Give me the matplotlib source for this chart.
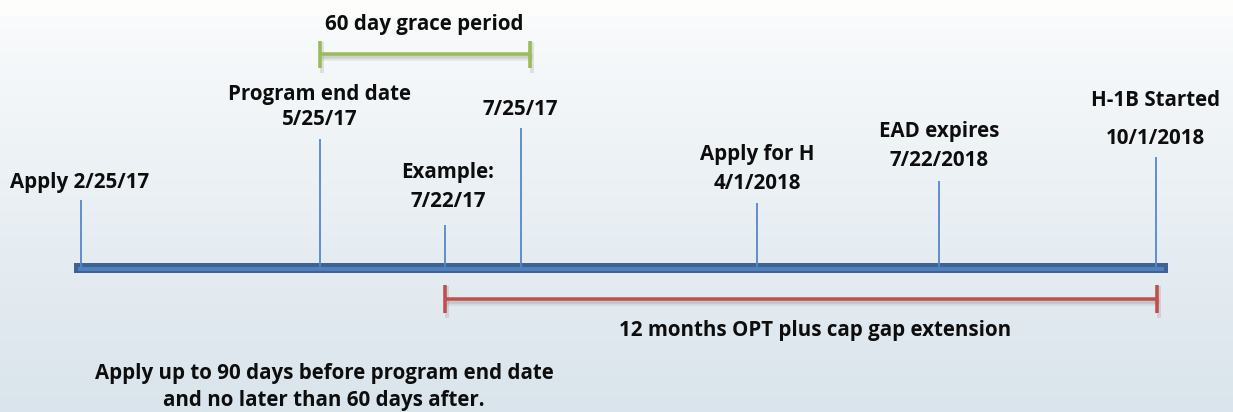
import numpy as np
import matplotlib
matplotlib.use("Agg")
import matplotlib.pyplot as plt
from matplotlib.patches import Rectangle

# ---- data (schematic timeline, positions in layout units) ----
event_lines = [["Apply 2/25/17"],
               ["Program end date", "5/25/17"],
               ["Example:", "7/22/17"],
               ["7/25/17"],
               ["Apply for H", "4/1/2018"],
               ["EAD expires", "7/22/2018"],
               ["H-1B Started", "10/1/2018"]]
event_pos = [81, 319.5, 445, 520.5, 757, 939, 1156]
stem_top = [200, 139, 225, 128, 203, 181, 157]
label_baselines = [[188], [100, 125], [178, 207], [115], [160, 189], [137, 166], [106, 144]]
label_center = [80, 319.5, 448, 520, 757, 939, 1155.5]

grace_label = "60 day grace period"
grace_start, grace_end = 319.5, 529.5
opt_label = "12 months OPT plus cap gap extension"
opt_start, opt_end = 445, 1156.5
note_lines = ["Apply up to 90 days before program end date", "and no later than 60 days after."]

timeline_start, timeline_end = 74, 1168

# ---- figure ----
W, H = 1233, 412
fig = plt.figure(figsize=(W / 100, H / 100), dpi=100)
ax = fig.add_axes([0, 0, 1, 1])
ax.set_xlim(0, W)
ax.set_ylim(H, 0)
ax.axis("off")

# background gradient
ys = np.linspace(0, 1, 200)
top = np.array([0.985, 0.99, 0.99])
bot = np.array([0.855, 0.895, 0.925])
grad = top[None, :] + (bot - top)[None, :] * (ys[:, None] ** 0.9)
grad[:8] = [0.995, 0.995, 0.99]
ax.imshow(grad[:, None, :], extent=[0, W, H, 0], aspect="auto", zorder=0)

font = dict(family=["Open Sans", "DejaVu Sans"], fontweight="bold", fontsize=14.8, color="#0d0d0d")

# main timeline bar
ax.add_patch(Rectangle((timeline_start, 263), timeline_end - timeline_start, 10,
                       facecolor="#3d6395", edgecolor="none", zorder=3))
ax.add_patch(Rectangle((timeline_start + 4, 267.3), timeline_end - timeline_start - 8, 3.4,
                       facecolor="#5080bd", edgecolor="none", zorder=4))

# stems and labels
for x, t, lines, bls, cx in zip(event_pos, stem_top, event_lines, label_baselines, label_center):
    ax.plot([x, x], [t, 267], color="#5587c9", lw=1.3, zorder=5, solid_capstyle="butt")
    for s, b in zip(lines, bls):
        ax.text(cx, b, s, ha="center", va="baseline", zorder=6, **font)

# span bars with shadow
def span(x0, x1, y, color, cap_half, lw):
    for dy, a, w in [(3, 0.10, lw + 4), (2, 0.15, lw + 1)]:
        ax.plot([x0 + 2, x1 + 2], [y + dy, y + dy], color="#555555", alpha=a, lw=w * 0.72,
                solid_capstyle="butt", zorder=2)
    ax.plot([x0, x1], [y, y], color=color, lw=lw * 0.72, solid_capstyle="butt", zorder=3)
    for xx in (x0, x1):
        ax.plot([xx + 2, xx + 2], [y - cap_half + 3, y + cap_half + 3], color="#555555",
                alpha=0.15, lw=4 * 0.72, zorder=2)
        ax.plot([xx, xx], [y - cap_half, y + cap_half], color=color, lw=3.6 * 0.72,
                solid_capstyle="butt", zorder=3)

span(grace_start, grace_end, 54, "#9bbb59", 13.5, 3.5)
span(opt_start, opt_end, 298.7, "#c0504d", 14, 3.5)

ax.text((grace_start + grace_end) / 2, 30, grace_label, ha="center", va="baseline", **font)
ax.text(815, 336, opt_label, ha="center", va="baseline", **font)
for s, b in zip(note_lines, [379, 406]):
    ax.text(324, b, s, ha="center", va="baseline", **font)

fig.savefig("out.png", dpi=100)
